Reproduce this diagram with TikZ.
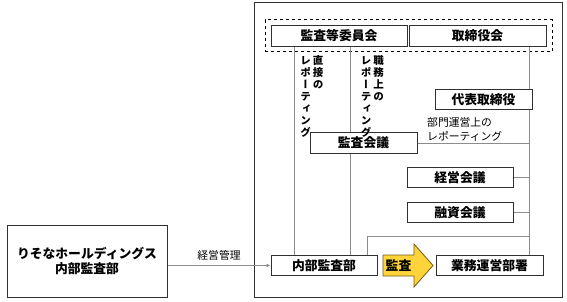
\documentclass[tikz,border=0pt]{standalone}
\usepackage{fontspec}
\setmainfont{Noto Sans CJK JP}
\newfontfamily\tatefont[RawFeature=+vert]{Noto Sans CJK JP}
\usepackage{tikz}
\usetikzlibrary{arrows.meta,calc,positioning}
\definecolor{frm}{HTML}{303030}
\definecolor{lnk}{HTML}{8C8C8C}
\definecolor{ylw}{HTML}{FFD43B}
\definecolor{ylwd}{HTML}{6E5A10}

\begin{document}
\begin{tikzpicture}[x=1pt,y=-1pt,font=\bfseries\fontsize{12.8}{14.5}\selectfont,>=Latex,
  box/.style={draw=frm,line width=1pt,fill=white,inner sep=0pt,minimum height=20.5pt},
  link/.style={draw=lnk,line width=0.8pt},
  tate/.style={anchor=north,align=center,inner sep=0pt,font=\tatefont\bfseries\fontsize{10.5}{12}\selectfont},
  small/.style={inner sep=0pt,font=\fontsize{10.8}{14}\selectfont}]
  \useasboundingbox (0,0) rectangle (567,302);
  \draw[draw=frm,line width=1pt] (254,3) rectangle (562,297);
  \node[draw=black,dashed,line width=1pt,minimum width=287pt,minimum height=32pt] (board) at (408.5,36) {};
  \node[box,minimum width=136pt] (kansaiin) at (339,36) {監査等委員会};
  \node[box,minimum width=137pt] (torikai) at (477.5,36) {取締役会};
  \node[box,minimum width=106pt] (naibu) at (324,265.5) {内部監査部};
  \node[box,minimum width=107pt] (gyomu) at (489.5,265.5) {業務運営部署};
  \node[box,minimum width=160pt,minimum height=72pt,align=center] (hd) at (87,261)
    {りそなホールディングス\\内部監査部};

  \coordinate (trunk) at ([xshift=-14pt]gyomu.north east);
  \coordinate (direct) at ([xshift=24pt]naibu.north west);
  \coordinate (duty) at ([xshift=80pt]naibu.north west);
  \coordinate (bend) at ([xshift=-10pt]naibu.north east);
  \draw[link] (trunk) -- (trunk |- torikai.south);
  \draw[link] (direct) -- (direct |- kansaiin.south);
  \draw[link] (duty) -- (duty |- kansaiin.south);
  \draw[link] (bend) |- ([yshift=18pt]trunk);

  \node[box,minimum width=97pt] (daihyo) at (483.5,99.5) {代表取締役};
  \node[box,minimum width=107pt] (kaigi) at (363.5,143) {監査会議};
  \node[box,minimum width=106pt] (keiei) at (460,177.5) {経営会議};
  \node[box,minimum width=106pt] (yushi) at (460,212.5) {融資会議};
  \draw[link] (kaigi.east) -- (kaigi.east -| trunk);
  \draw[link] (keiei.east) -- (keiei.east -| trunk);
  \draw[link] (yushi.east) -- (yushi.east -| trunk);

  \node[tate] (direct1) at (318,55) {直\\接\\の};
  \node[tate] (direct2) at (305.5,56) {レ\\ポ\\ー\\テ\\ィ\\ン\\グ};
  \node[tate] (duty1) at (378.5,55) {職\\務\\上\\の};
  \node[tate] (duty2) at (366,56) {レ\\ポ\\ー\\テ\\ィ\\ン\\グ};
  \node[small,anchor=west,align=left] (bumon) at (427,129) {部門運営上の\\レポーティング};

  \draw[link,draw=lnk,-{Latex[length=4pt,width=4pt]}] (hd.east |- naibu.west) -- (naibu.west)
    node[small,midway,above=5pt] (keieikanri) {経営管理};

  \draw[fill=ylw,draw=ylwd,line width=0.8pt] (383,255) -- (414,255) -- (414,244) -- (433,265.5)
    -- (414,287) -- (414,276) -- (383,276) -- cycle;
  \node (kansa) at (398.5,265.5) {監査};
\end{tikzpicture}
\end{document}
